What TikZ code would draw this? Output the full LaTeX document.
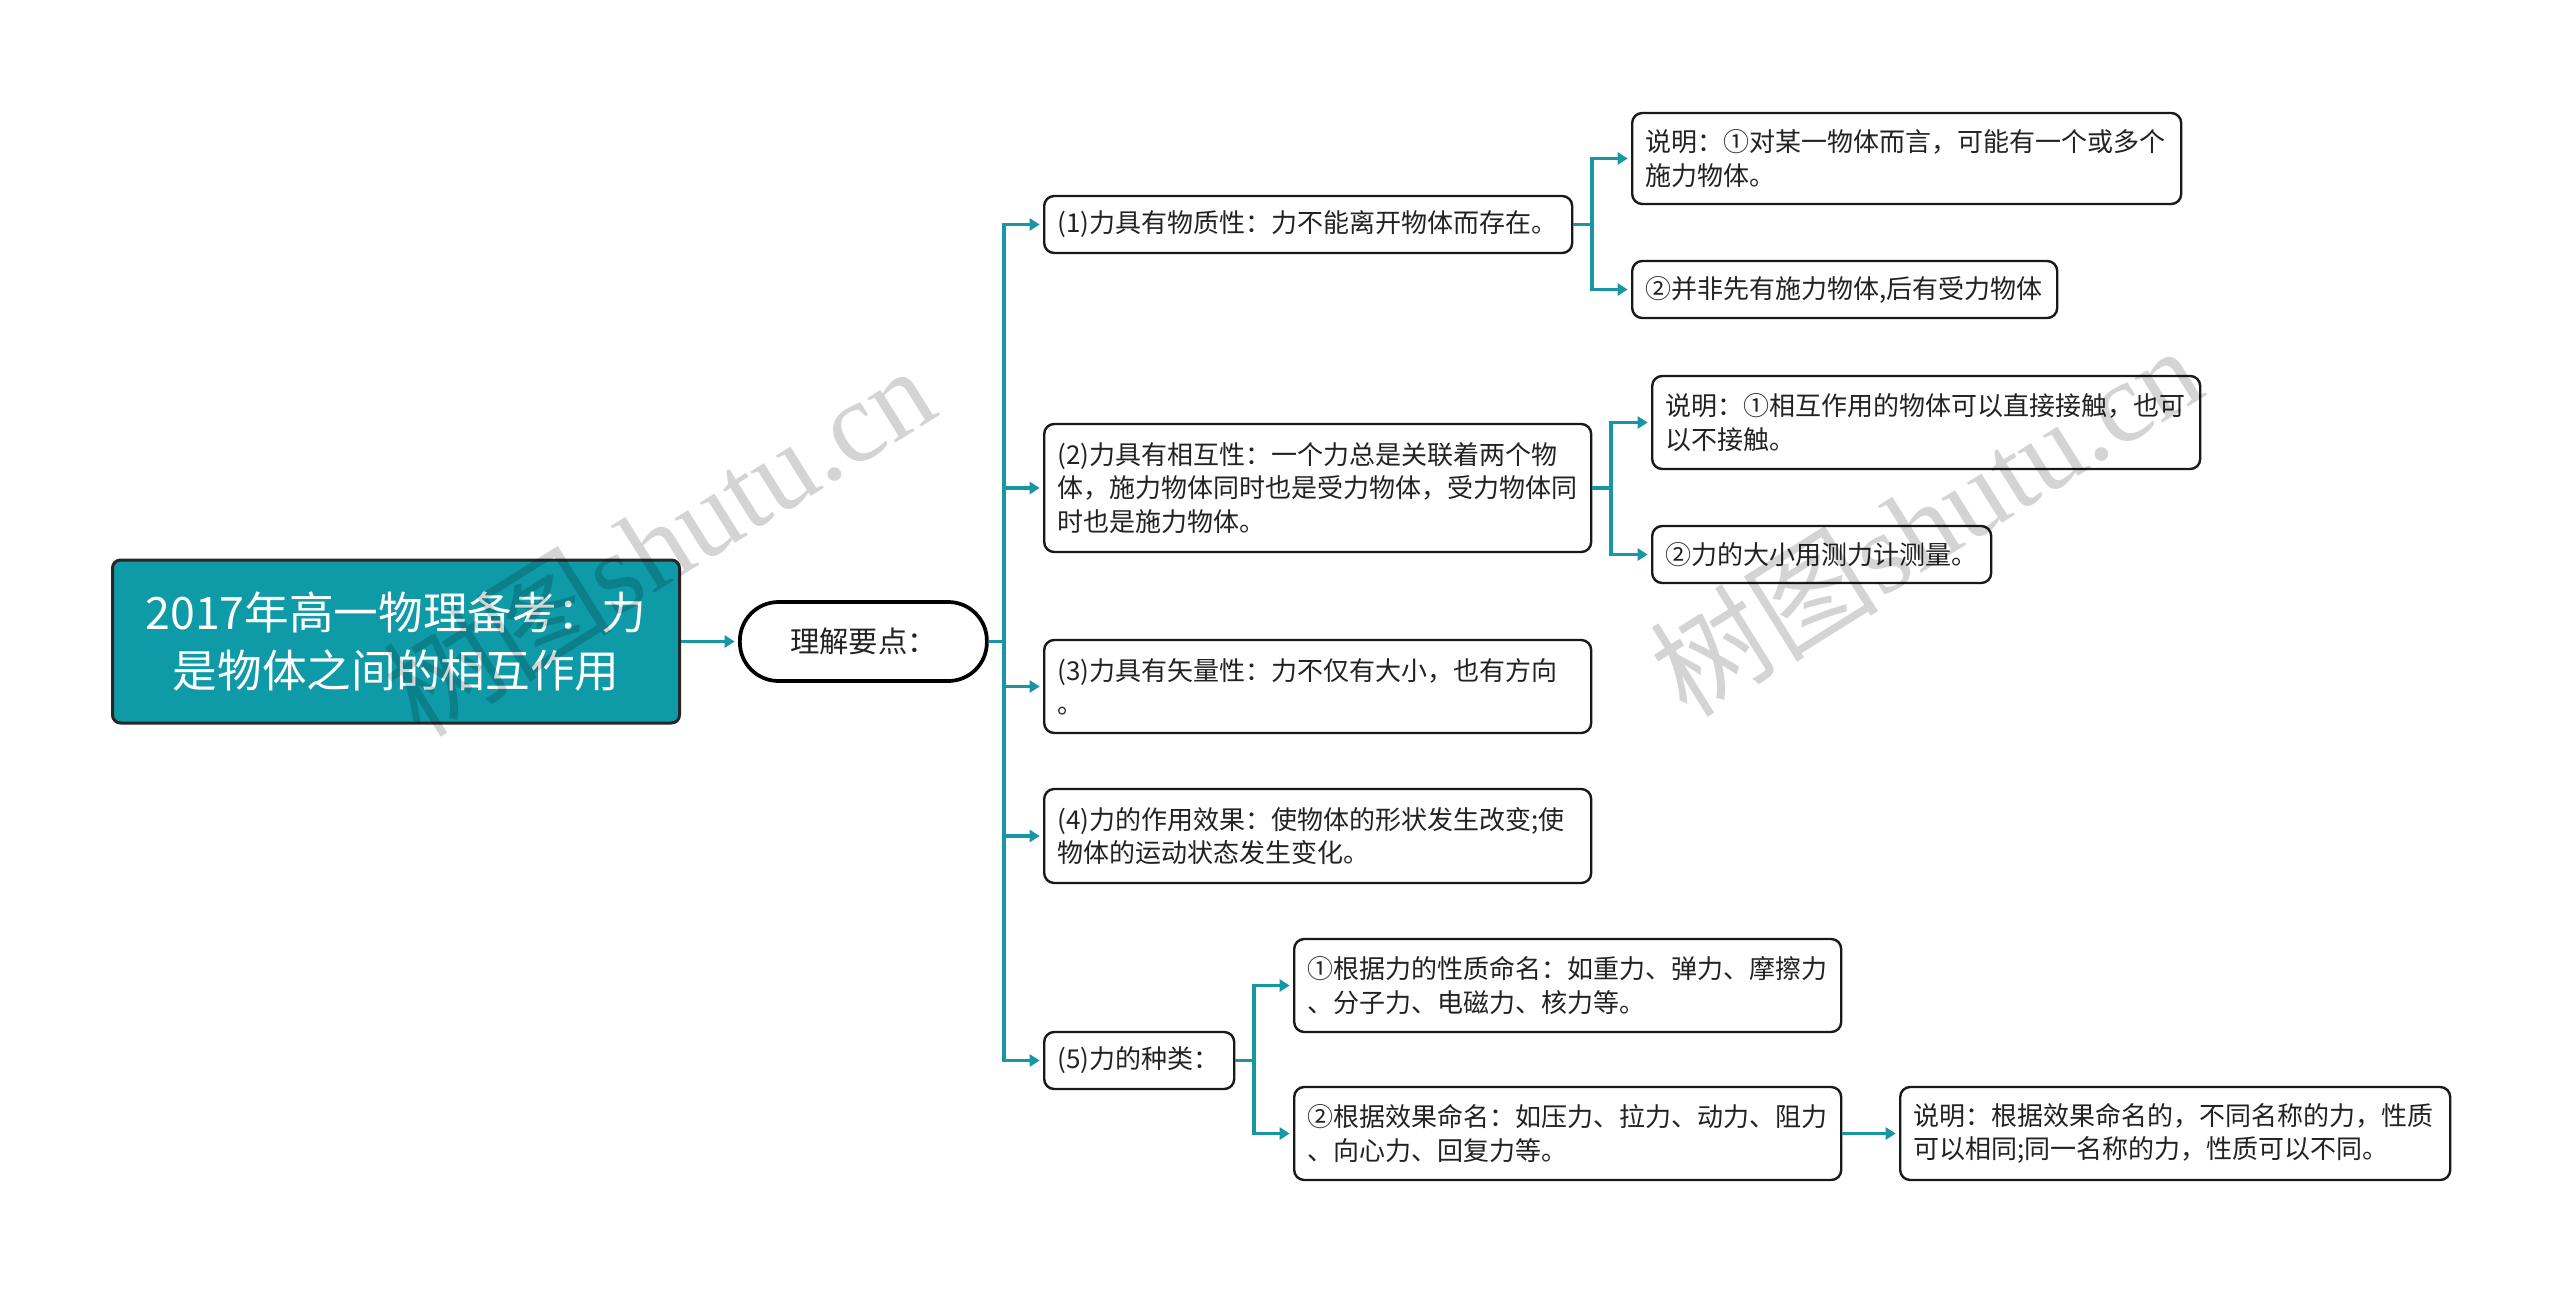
\documentclass[tikz,border=0pt]{standalone}
\usepackage{fontspec}
\setmainfont{Noto Sans CJK SC}
\newfontfamily\wmserif{Liberation Serif}
\usetikzlibrary{arrows.meta}
\definecolor{teal1}{HTML}{0E9AA7}
\definecolor{conncol}{HTML}{1896A4}
\definecolor{txt}{HTML}{222222}
\tikzset{
  box/.style={draw=black!90, line width=1.8pt, rounded corners=7.5pt, fill=white, text=txt,
    align=left, inner xsep=10pt, inner ysep=0pt, anchor=west, font=\fontsize{19.5}{25}\selectfont},
  rootbox/.style={draw=black!85, line width=2.25pt, rounded corners=6pt, fill=teal1, text=white,
    align=center, anchor=west, inner sep=0pt, minimum width=425.25pt, minimum height=122.25pt,
    font=\fontsize{33.5}{44}\selectfont},
  pillbox/.style={draw=black, line width=2.8pt, rounded corners=29pt, fill=white, text=txt,
    align=center, anchor=west, inner sep=0pt, minimum width=185.25pt, minimum height=59.25pt,
    font=\fontsize{22}{26}\selectfont},
  conn/.style={draw=conncol, line width=2.3pt},
  arr/.style={conn, shorten >=2.5pt, -{Triangle[length=7.5pt,width=9pt]}},
  wm/.style={text=black, opacity=0.17, inner sep=0pt, font=\fontsize{86}{86}\selectfont}
}
\begin{document}
\begin{tikzpicture}[x=0.75pt,y=-0.75pt]
\useasboundingbox (0,0) rectangle (2560,1293);

% root and pill
\node[rootbox] (root) at (111,641.5) {2017年高一物理备考：力\\是物体之间的相互作用};
\node[pillbox] (pill) at (738,641.5) {理解要点：};

% level 2
\node[box, text width=376pt, minimum height=42.75pt] (n1) at (1043,224.5) {(1)力具有物质性：力不能离开物体而存在。};
\node[box, text width=390.25pt, minimum height=96pt] (n2) at (1043,488) {(2)力具有相互性：一个力总是关联着两个物\\体，施力物体同时也是受力物体，受力物体同\\时也是施力物体。};
\node[box, text width=390.25pt, minimum height=69.75pt] (n3) at (1043,686.5) {(3)力具有矢量性：力不仅有大小，也有方向\\。};
\node[box, text width=390.25pt, minimum height=70.5pt] (n4) at (1043,836) {(4)力的作用效果：使物体的形状发生改变;使\\物体的运动状态发生变化。};
\node[box, text width=122.5pt, minimum height=42.75pt] (n5) at (1043,1060.5) {(5)力的种类：};

% level 3
\node[box, text width=391.75pt, minimum height=68.25pt] (n1a) at (1631,158.5) {说明：①对某一物体而言，可能有一个或多个\\施力物体。};
\node[box, text width=298.75pt, minimum height=42.75pt] (n1b) at (1631,289.5) {②并非先有施力物体,后有受力物体};
\node[box, text width=391pt, minimum height=69.75pt] (n2a) at (1651,422.5) {说明：①相互作用的物体可以直接接触，也可\\以不接触。};
\node[box, text width=234.25pt, minimum height=42.75pt] (n2b) at (1651,554.5) {②力的大小用测力计测量。};
\node[box, text width=390.25pt, minimum height=69.75pt] (n5a) at (1293,985.5) {①根据力的性质命名：如重力、弹力、摩擦力\\、分子力、电磁力、核力等。};
\node[box, text width=390.25pt, minimum height=69.75pt] (n5b) at (1293,1133.5) {②根据效果命名：如压力、拉力、动力、阻力\\、向心力、回复力等。};
\node[box, text width=392.5pt, minimum height=69.75pt] (n5c) at (1899,1133.5) {说明：根据效果命名的，不同名称的力，性质\\可以相同;同一名称的力，性质可以不同。};

% branch points
\coordinate (b0) at (1004,641.5);
\coordinate (b1) at (1592,224.5);
\coordinate (b2) at (1611,488);
\coordinate (b5) at (1254,1060.5);

% connectors
\draw[arr] (root.east) -- (pill.west);
\draw[conn] (pill.east) -- (b0);
\foreach \n in {n1,n2,n3,n4,n5} \draw[arr] (b0) |- (\n.west);
\draw[conn] (n1.east) -- (b1);
\foreach \n in {n1a,n1b} \draw[arr] (b1) |- (\n.west);
\draw[conn] (n2.east) -- (b2);
\foreach \n in {n2a,n2b} \draw[arr] (b2) |- (\n.west);
\draw[conn] (n5.east) -- (b5);
\foreach \n in {n5a,n5b} \draw[arr] (b5) |- (\n.west);
\draw[arr] (n5b.east) -- (n5c.west);

% watermarks
\node[wm, rotate=32] (wm1) at (658,540) {树图{\wmserif shutu.cn}};
\node[wm, rotate=32] (wm2) at (1925,520) {树图{\wmserif shutu.cn}};
\end{tikzpicture}
\end{document}
